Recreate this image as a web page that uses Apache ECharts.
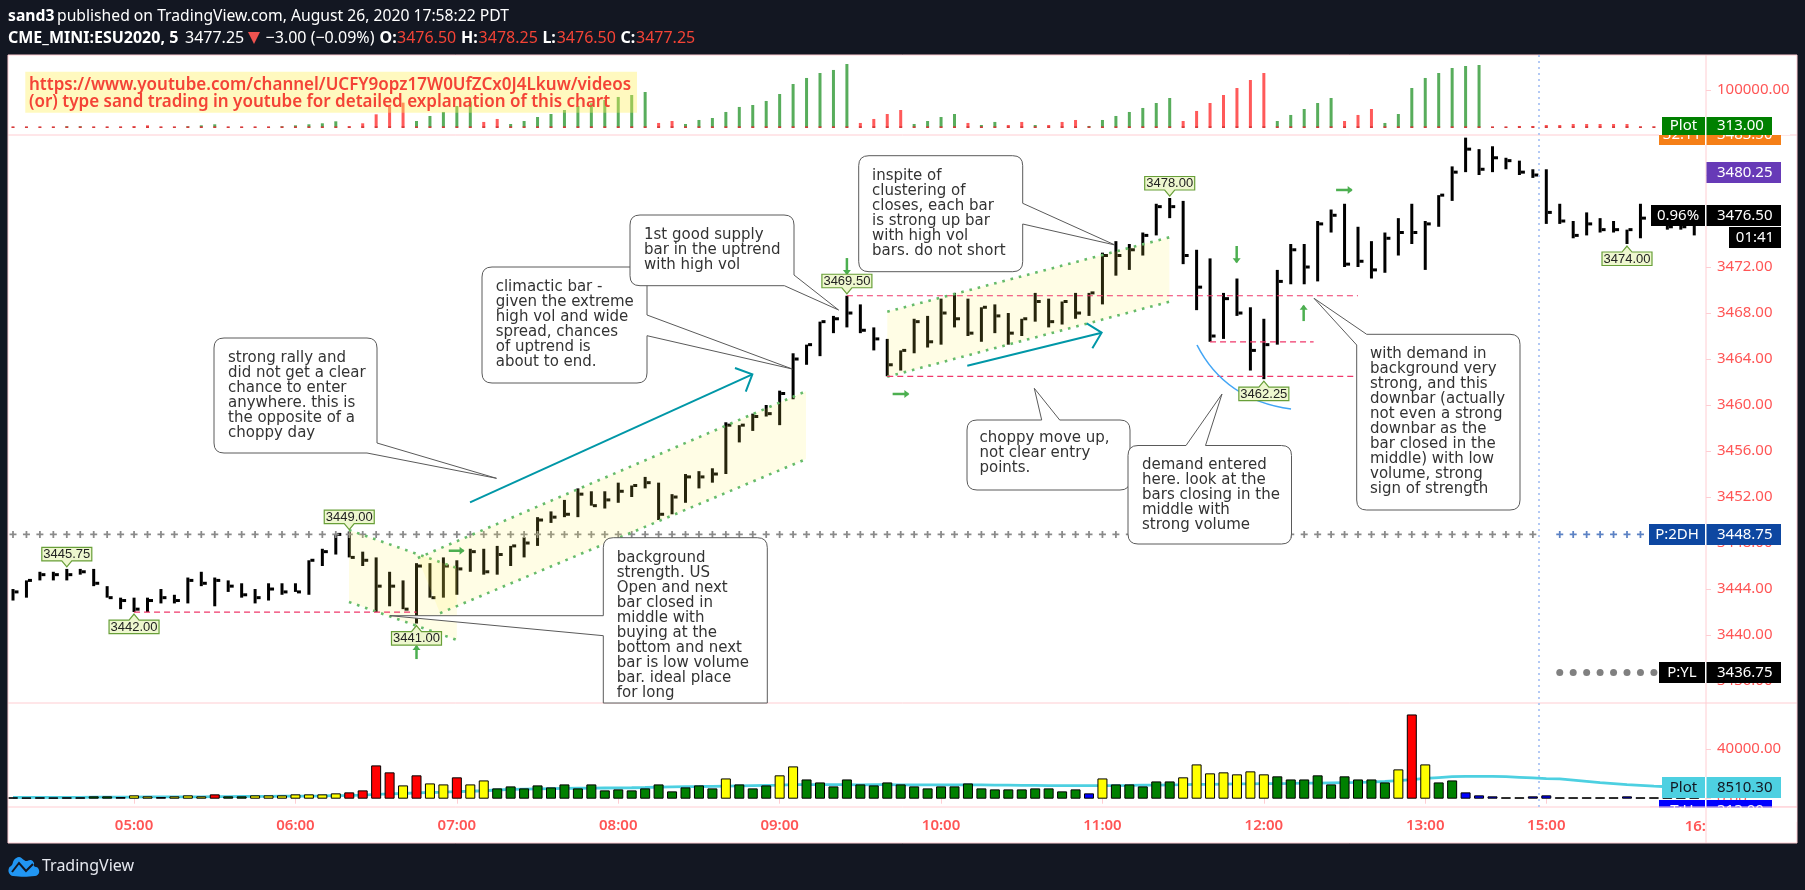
<!DOCTYPE html>
<html><head><meta charset="utf-8">
<style>html,body{margin:0;padding:0;background:#131722}#c{width:1805px;height:890px}</style>
<script src="https://cdn.jsdelivr.net/npm/echarts@6/dist/echarts.min.js"></script>
</head><body><div id="c"></div>
<script>
const times=['04:15','04:20','04:25','04:30','04:35','04:40','04:45','04:50','04:55','05:00','05:05','05:10','05:15','05:20','05:25','05:30','05:35','05:40','05:45','05:50','05:55','06:00','06:05','06:10','06:15','06:20','06:25','06:30','06:35','06:40','06:45','06:50','06:55','07:00','07:05','07:10','07:15','07:20','07:25','07:30','07:35','07:40','07:45','07:50','07:55','08:00','08:05','08:10','08:15','08:20','08:25','08:30','08:35','08:40','08:45','08:50','08:55','09:00','09:05','09:10','09:15','09:20','09:25','09:30','09:35','09:40','09:45','09:50','09:55','10:00','10:05','10:10','10:15','10:20','10:25','10:30','10:35','10:40','10:45','10:50','10:55','11:00','11:05','11:10','11:15','11:20','11:25','11:30','11:35','11:40','11:45','11:50','11:55','12:00','12:05','12:10','12:15','12:20','12:25','12:30','12:35','12:40','12:45','12:50','12:55','13:00','13:05','13:10','13:30','13:35','13:40','13:45','13:50','13:55','15:00','15:05','15:10','15:15','15:20','15:25','15:30','15:35','15:40','15:45','15:50','15:55'];
const timeTicks=['05:00','06:00','07:00','08:00','09:00','10:00','11:00','12:00','13:00','15:00'];
const priceTicks=[3436,3440,3444,3448,3452,3456,3460,3464,3468,3472,3476,3480];
const highs=[3444,3444.75,3445.5,3445.5,3445.75,3445.75,3445.75,3444.25,3443.25,3443.25,3443.25,3444,3443.5,3445,3445.5,3445,3444.75,3444.5,3444,3444.5,3444.5,3444.5,3446.5,3447.5,3448.75,3449,3447.25,3446.75,3445.5,3444.75,3446.25,3446.25,3446.75,3446.5,3447.5,3447.5,3447.75,3447.75,3448.5,3450.25,3450.75,3451.75,3452.75,3452.5,3452.5,3453.25,3453,3453.75,3453.25,3452.25,3454,3454.25,3454.5,3458.5,3458.25,3459.25,3460,3461.25,3464.5,3465.25,3467.25,3467.75,3469.5,3468.75,3466.75,3465.75,3464.75,3467.5,3467.75,3469.25,3469.75,3469.25,3468.5,3468.75,3468,3467.5,3469.75,3469.25,3469,3469.75,3469.75,3473.25,3474.25,3474,3475,3477.5,3478,3477.75,3473.5,3472.75,3469.75,3471,3468.5,3467.5,3471.75,3474,3474,3476,3477,3477.5,3475.5,3474.25,3475,3476.25,3477.5,3476,3478.25,3480.75,3483.25,3482.25,3482.5,3481.5,3481.25,3480.5,3480.5,3477.5,3476,3476.75,3476.25,3476,3475.25,3477.5,3477,3476.5,3476.5,3476.75];
const lows=[3443,3443.25,3444.75,3444.75,3444.75,3445.25,3444.25,3443.25,3442.25,3442,3442,3442.75,3442.75,3442.75,3444.25,3442.5,3443.75,3443.25,3442.75,3443,3443.5,3443.75,3443.5,3446,3447,3446.75,3446,3442,3442.5,3442.25,3441,3443.25,3443.25,3443.5,3445.5,3445.25,3445.25,3446,3446.75,3447.75,3449.75,3450.25,3450.25,3451.25,3451,3451.5,3452,3452.75,3450,3450.5,3451.5,3452.75,3453.25,3454,3456.75,3457.75,3459,3458.25,3460.5,3463.5,3464.25,3466.25,3466.75,3466.25,3464.75,3462.5,3463,3464.5,3465,3465.25,3466.75,3466,3465.5,3466.25,3465.25,3466,3467.25,3466.75,3467,3467.5,3467.75,3468.75,3471.25,3471.75,3473,3474.75,3476.25,3472.25,3468.25,3465.5,3465.75,3467.75,3463,3462.25,3465.25,3470.5,3470.5,3470.75,3475,3472,3472,3471,3471.5,3473,3474,3471.75,3475.5,3477.75,3480.25,3480,3480.25,3480.5,3480,3479.75,3475.75,3475.75,3474.5,3474.75,3475,3475,3474,3474.5,3475.75,3475.25,3475.25,3474.75];
const closes=[3443.75,3444.75,3445.25,3445.25,3445.25,3445.5,3444.5,3443.25,3443,3442.25,3443,3443.25,3443,3444.75,3444.5,3444.75,3444.25,3443.5,3443.25,3444,3443.75,3443.75,3446.5,3447.25,3448.75,3446.75,3446.5,3444.25,3444.25,3442.25,3446,3443.25,3446,3445.75,3447.25,3445.5,3447,3447.75,3448,3450,3450.25,3450.5,3452.25,3451.25,3451.75,3452.5,3453,3453.25,3450.5,3452,3453.75,3453.75,3454,3458.25,3458.25,3459,3459.25,3461,3464,3465.25,3467.25,3467.5,3468,3466.5,3465.75,3463.5,3464.75,3467.25,3465.5,3468,3467.5,3466.25,3468.5,3467.75,3466.25,3467.5,3469,3467.25,3469,3468,3469.75,3473,3473,3473.5,3474.75,3477.25,3477.25,3473,3470.25,3466,3469.25,3468,3464.75,3465.25,3470.75,3473.5,3472,3475.75,3476.5,3472.25,3472.5,3471.75,3474.5,3475,3475,3475.75,3478.25,3480.25,3482.25,3480.5,3481.5,3481.25,3480.25,3480,3476.75,3476,3474.75,3475.75,3475.25,3475.25,3475.25,3476.25,3476.5,3475.5,3475.5,3476.5];
const volumes=[1100,1000,1100,1000,1100,1100,1900,1900,1300,2700,1900,1300,1900,2700,1900,3500,1900,1900,2700,2700,2700,3500,3500,3500,4300,5100,6700,26800,21200,10700,18800,12300,11500,17200,11500,14700,8300,9900,8300,10700,9100,11500,8300,11500,6700,7500,6700,8300,11500,5900,9100,10700,8300,16300,11500,8300,10700,18800,26000,15500,13100,9900,15500,11500,10700,13100,11500,9900,8300,9900,9900,12300,8300,7500,7500,7500,8300,8300,5900,7500,4300,16300,11500,11500,9900,13900,13900,17200,27600,20400,21200,19600,22000,19600,18000,15500,15500,18800,11500,18000,15500,15500,13100,23600,67800,27600,13100,14700,5100,2700,1900,1100,1100,1900,2700,1100,1100,1100,1100,1100,1900,1100,1100,1100,1100,1100];
const volumeClasses=('kkkkkkggkyykyyyrggyyyyyyyrrrryryyryy'+'ggggggggggggggggg'+'yggg'+'yy'+'ggggggggggggggggggggg'+'by'+'ggggg'+'yyyyyyy'+'ggggggggg'+'yry'+'gg'+'bbb'+'kk'+'bb'+'kkkkk'+'b'+'kkkkk').split('');
const volumeAverage=[1000,1000,1000,1000,1100,1100,1200,1200,1200,1300,1400,1400,1400,1500,1500,1700,1700,1800,1800,1900,2000,2100,2100,2200,2400,2600,2900,3500,3900,4200,4700,5000,5300,5700,6000,6400,7000,7500,7700,7900,8100,8300,8400,8500,8600,8700,8800,9000,9300,9500,9700,9800,10000,10200,10400,10600,10800,11000,11300,11300,11300,11300,11300,11200,11300,11300,11200,11200,11200,11200,11200,11200,11100,11000,10900,10800,10700,10600,10600,10500,10500,10500,10600,10700,10900,11000,11200,11300,11500,11600,11800,11900,12000,12100,12200,12300,12500,12600,12800,13000,13100,13400,13900,14500,15400,16300,17000,17700,17900,17900,17900,17700,17200,16700,16200,15900,15000,14000,13000,12200,11300,10700,10100,9600,9000,8510];
const waveValues=[900,900,900,900,2700,2700,900,900,900,2700,5300,900,900,2700,5300,8000,900,900,900,900,2700,5300,8000,10700,16000,2700,10700,34700,55200,65900,16900,30300,41000,57000,68600,14300,22300,8900,16900,27600,35600,46300,57000,64200,73100,81100,86400,94400,11600,16900,8900,19600,24900,41000,54400,59700,70400,89100,115800,131900,145200,153300,169300,11600,22300,35600,46300,8900,16900,27600,35600,11600,6200,14300,6200,14300,6200,6200,14300,19600,3600,19600,30300,41000,51700,65000,78400,16900,43700,65000,86400,105100,126500,145200,16900,33000,49000,65000,78400,16900,33000,49000,11600,35600,105100,131900,145200,158600,163900,166600,900,900,3600,3600,6200,6200,8900,8900,8900,8900,8900,1800,1800,900,900,313];
const waveDirections=('dddd'+'uu'+'ddddddd'+'uuu'+'dddd'+'uuuuu'+'ddddd'+'uuuuu'+'dd'+'uuuuuuuuuuu'+'dd'+'uuuuuuuuuuuuu'+'dddd'+'uuuu'+'d'+'uu'+'dd'+'u'+'ddd'+'uuuuuuu'+'ddddddd'+'uuuuu'+'ddd'+'uuuuuuuu'+'dddddddddddddddd').split('');
const tagBars=[4,9,25,30,62,86,93,120];
const tagPrices=[3445.75,3442,3449,3441,3469.5,3478,3462.25,3474];
const tagSides=['up','down','up','down','up','up','down','down'];
const levelLines=[[9,30,3442],[62,100,3469.5],[65,99.7,3462.5],[89,96.7,3465.5]];
const channels=[[[24.98,3449.13],[33,3445.83],[33,3439.57],[24.98,3442.87]],[[30.1,3446.7],[58.96,3461.2],[58.96,3455.3],[31.75,3441.9]],[[65,3468.11],[85.97,3474.58],[85.97,3468.98],[65,3462.46]]];
const tealArrows=[[[33.98,3451.54],[54.97,3462.67],[53.68,3463.22],[54.48,3461.16]],[[70.95,3463.42],[80.94,3466.29],[79.83,3467.1],[80.25,3464.93]]];
const greenArrows=[[32.4,3447.33,33.5,3447.33],[30,3437.91,30,3439.04],[62,3472.78,62,3471.39],[65.4,3460.96,66.57,3460.96],[90.98,3473.83,90.98,3472.41],[95.96,3467.3,95.96,3468.63],[98.37,3478.7,99.53,3478.7]];
const demandArc=[[88.03,3465.22],[90.11,3460.43],[95.02,3459.65]];
const prevHighGrey=[];for(let i=0;i<=113;i++)prevHighGrey.push(i);
const prevHighBlue=[115,116,117,118,119,120,121,122,123,124,125];
const sessionBars=[115,116,117,118,119,120,121,122,123,124,125];

const notes=[
 {lines:['strong rally and','did not get a clear','chance to enter','anywhere. this is','the opposite of a','choppy day'],x:228,y:358,d:'M224 338 H367 Q377 338 377 348 V443 L496.5 478.3 L367 453 H224 Q214 453 214 443 V348 Q214 338 224 338 Z'},
 {lines:['climactic bar -','given the extreme','high vol and wide','spread, chances','of uptrend is','about to end.'],x:495.7,y:286.7,d:'M492 267 H637 Q647 267 647 277 V315 L792.3 369 L647 335.7 V373 Q647 383 637 383 H492 Q482 383 482 373 V277 Q482 267 492 267 Z'},
 {lines:['1st good supply','bar in the uptrend','with high vol'],x:644,y:235,d:'M640 215 H784 Q794 215 794 225 V275 L838.6 310 L784.4 285.7 H640 Q630 285.7 630 275.7 V225 Q630 215 640 215 Z'},
 {lines:['inspite of','clustering of','closes, each bar','is strong up bar','with high vol','bars. do not short'],x:872,y:175.7,d:'M869 155.7 H1012.7 Q1022.7 155.7 1022.7 165.7 V203.3 L1115 245 L1022.7 224 V261.7 Q1022.7 271.7 1012.7 271.7 H869 Q858.7 271.7 858.7 261.7 V165.7 Q858.7 155.7 869 155.7 Z'},
 {lines:['choppy move up,','not clear entry','points.'],x:979.5,y:438.6,d:'M977 420 H1041.7 L1034.3 388.3 L1059.7 420 H1120 Q1130 420 1130 430 V480 Q1130 490 1120 490 H977 Q967 490 967 480 V430 Q967 420 977 420 Z'},
 {lines:['demand entered','here. look at the','bars closing in the','middle with','strong volume'],x:1142,y:465,d:'M1138 445.5 H1186 L1222 394 L1205.5 445.5 H1281.5 Q1291.5 445.5 1291.5 455.5 V534 Q1291.5 544 1281.5 544 H1138 Q1128 544 1128 534 V455.5 Q1128 445.5 1138 445.5 Z'},
 {lines:['with demand in','background very','strong, and this','downbar (actually','not even a strong','downbar as the','bar closed in the','middle) with low','volume, strong','sign of strength'],x:1370,y:354,d:'M1366.7 334.3 H1510 Q1520 334.3 1520 344.3 V500 Q1520 510 1510 510 H1366.7 Q1356.7 510 1356.7 500 V345 L1314 298.3 Z'},
 {lines:['background','strength. US','Open and next','bar closed in','middle with','buying at the','bottom and next','bar is low volume','bar. ideal place','for long'],x:616.7,y:557.7,d:'M613.3 537.7 H757.3 Q767.3 537.7 767.3 547.7 V703 H603.3 V635.7 L390 615.7 L603.3 615.7 V547.7 Q603.3 537.7 613.3 537.7 Z'}
];

const UI='"Noto Sans"',PINK='#ffcdd2',RED='#f55',FS=15;
const volumeFill={k:'#000',b:'#0000ff',g:'#008000',y:'#ffff00',r:'#ff0000'};
const plus='path://M3 0H5V3H8V5H5V8H3V5H0V3H3Z';

function pt(api,i,p){const i0=Math.floor(i);const c=api.coord([i0,p]);const w=api.size([1,0])[0];return [c[0]+(i-i0)*w,c[1]];}
function T(x,y,text,o){o=o||{};return {type:'text',z:o.z||30,style:{x:x,y:y,text:text,fill:o.fill||'#fff',font:(o.weight||'normal')+' '+(o.size||FS)+'px '+(o.family||UI),align:o.align||'left',textAlign:o.align||'left',verticalAlign:'middle',textVerticalAlign:'middle'}};}
function R(x1,y1,x2,y2,fill,z){return {type:'rect',z:z==null?30:z,silent:true,shape:{x:x1,y:y1,width:x2-x1,height:y2-y1},style:{fill:fill}};}
function L(x1,y1,x2,y2,stroke,z,w){return {type:'line',z:z==null?5:z,silent:true,shape:{x1:x1,y1:y1,x2:x2,y2:y2},style:{stroke:stroke,lineWidth:w||1}};}
function priceLabel(x1,x2,y1,y2,fill,ink,left,right,z,cyOverride){
  const cy=cyOverride==null?(y1+y2)/2:cyOverride;const out=[R(x1,y1,x2,y2,fill,z)];
  if(left){out.push(T((x1+1705)/2,cy,left,{fill:ink,align:'center',z:z+1}));out.push(R(1705,y1,1706.5,y2,'#fff',z+1));}
  out.push(T(1717,cy,right,{fill:ink,z:z+1}));
  return out;
}

const g=[];
g.push(R(8,55,1797,843,'#fff',0));
g.push(L(8,55,1797,55,PINK),L(8,135,1797,135,PINK),L(8,703,1797,703,PINK),L(8,807,1797,807,PINK),L(8,843,1797,843,PINK),L(8,55,8,843,PINK),L(1797,55,1797,843,PINK),L(1706,55,1706,843,PINK));
g.push({type:'line',z:6,silent:true,shape:{x1:1539,y1:55,x2:1539,y2:807},style:{stroke:'#b3c9f5',lineWidth:2,lineDash:[2,4]}});
// advert box
g.push(R(25.3,71.7,637,112.7,'rgba(255,238,88,0.38)',8));
g.push(T(29,85,'https://www.youtube.com/channel/UCFY9opz17W0UfZCx0J4Lkuw/videos',{fill:'#f44336',weight:'600',size:17,z:9}));
g.push(T(29,102,'(or) type sand trading in youtube for detailed explanation of this chart',{fill:'#f44336',weight:'600',size:17,z:9}));
g.push(...priceLabel(1659,1781,135,145,'#f57f17','#fff','32:11','3483.50',30,134.75));
g.push(R(1659,120,1662,135,'#fff',32),R(1772,120,1790,135,'#fff',32));
g.push(...priceLabel(1662,1772,117,135,'#008000','#fff','Plot','313.00',33));
g.push(...priceLabel(1706.5,1781,162,183,'#673ab7','#fff','','3480.25',30));
g.push(...priceLabel(1651,1781,205,226,'#000','#fff','0.96%','3476.50',34));
g.push(R(1729,227,1781,248,'#000',30),T(1755,237.5,'01:41',{align:'center',z:31}));
g.push(...priceLabel(1649,1781,524,545,'#0d47a1','#fff','P:2DH','3448.75',30));
g.push(...priceLabel(1659,1781,662,683,'#000','#fff','P:YL','3436.75',30));
g.push(...priceLabel(1659,1772,800,821,'#0000ff','#fff','T:H','313.00',30));
g.push(...priceLabel(1662,1781,777,798,'#4dd0e1','#131722','Plot','8510.30',33));
g.push(R(1650,807.5,1796.5,822,'#fff',36));
g.push(L(1706,807,1706,822,PINK,37),L(1650,807,1797,807,PINK,37));
g.push(T(1706,827,'16:',{fill:RED,weight:'600',align:'right',z:38}));
// header
const H1=17,H2=38.5,HS=16;
g.push(T(8,H1,'sand3',{weight:'bold',size:15.7}),T(57,H1,'published on TradingView.com, August 26, 2020 17:58:22 PDT',{size:15.7}));
g.push(T(8,H2,'CME_MINI:ESU2020, 5',{weight:'bold',size:HS}),T(185,H2,'3477.25',{size:HS}));
g.push({type:'polygon',z:30,silent:true,shape:{points:[[248,32],[260,32],[254,44]]},style:{fill:'#ef5350'}});
g.push(T(265.6,H2,'−3.00 (−0.09%)',{size:HS}));
[[379.5,'O:',397,'3476.50'],[461,'H:',478.6,'3478.25'],[542.4,'L:',556.7,'3476.50'],[620.5,'C:',636,'3477.25']].forEach(a=>{
  g.push(T(a[0],H2,a[1],{weight:'bold',size:HS}),T(a[2],H2,a[3],{fill:'#f44336',size:HS}));
});
// logo
g.push({type:'polygon',z:30,silent:true,shape:{points:[[13,876],[9,873],[9,868],[12,865],[14,860],[19,857],[24,860],[26,861],[31,860],[34,863],[34,866],[38,868],[39,873],[35,876]],smooth:0.4},style:{fill:'#2196f3'}});
g.push({type:'polyline',z:31,silent:true,shape:{points:[[12,872],[19,863],[26,871],[33,864]]},style:{stroke:'#131722',lineWidth:2,fill:null}});
g.push(T(42,866,'TradingView',{size:16,fill:'#e6e8ef'}));

const bandGrid={left:6.275,width:1694.7};
const xBase=i=>({type:'category',gridIndex:i,data:times,boundaryGap:true,axisLine:{show:false},axisTick:{show:false},axisLabel:{show:false},splitLine:{show:false}});
const yBase=(i,min,max,vals)=>({type:'value',gridIndex:i,position:'right',offset:5.02,min:min,max:max,scale:true,splitLine:{show:false},axisLine:{show:false},
  axisTick:{show:true,length:5,lineStyle:{color:PINK},customValues:vals},
  axisLabel:{show:true,color:RED,fontFamily:UI,fontSize:FS,margin:11,padding:[3,0,0,0],customValues:vals,formatter:v=>Number(v).toFixed(2)}});
const isTick=(i,v)=>timeTicks.includes(v);

const x2=xBase(2);x2.axisTick={show:true,length:5,alignWithLabel:true,interval:isTick,lineStyle:{color:PINK}};
x2.axisLabel={show:true,interval:isTick,color:RED,fontFamily:UI,fontSize:FS,fontWeight:600,margin:11};

const option={
 animation:false,backgroundColor:'#131722',
 grid:[{top:55,height:80,...bandGrid},{top:135,height:568,...bandGrid},{top:703,height:104,...bandGrid}],
 xAxis:[xBase(0),xBase(1),x2],
 yAxis:[yBase(0,-20588,193300,[100000]),yBase(1,3434.09,3483.48,priceTicks),yBase(2,-6680,77022,[0,40000])],
 graphic:{elements:g},
 series:[
  {name:'wave',type:'bar',xAxisIndex:0,yAxisIndex:0,z:2,barWidth:3,data:waveValues.map((v,i)=>({value:v,itemStyle:{color:waveDirections[i]==='u'?'#58ad5c':'#ff5a5a'}}))},
  {name:'wave base',type:'scatter',xAxisIndex:0,yAxisIndex:0,z:3,symbol:'rect',symbolSize:[3,1.5],itemStyle:{color:'#d32f2f',opacity:1},data:times.map((t,i)=>[i,313])},
  {name:'prev high',type:'scatter',xAxisIndex:1,yAxisIndex:1,z:2,symbol:plus,symbolSize:7,itemStyle:{color:'#8a8a8a',opacity:1},data:prevHighGrey.map(i=>[i,3448.75])},
  {name:'prev high now',type:'scatter',xAxisIndex:1,yAxisIndex:1,z:2,symbol:plus,symbolSize:7,itemStyle:{color:'#5c82c4',opacity:1},data:prevHighBlue.map(i=>[i,3448.75])},
  {name:'prev low',type:'scatter',xAxisIndex:1,yAxisIndex:1,z:2,symbol:'circle',symbolSize:7,itemStyle:{color:'#808080',opacity:1},data:sessionBars.map(i=>[i,3436.75])},
  {name:'prev top',type:'scatter',xAxisIndex:1,yAxisIndex:1,z:2,clip:true,symbol:'circle',symbolSize:5,itemStyle:{color:'#8a8a8a',opacity:1},data:sessionBars.map(i=>[i,3483.5])},
  {name:'price',type:'custom',xAxisIndex:1,yAxisIndex:1,z:2,encode:{x:0,y:[1,2,3]},
   data:times.map((t,i)=>[i,highs[i],lows[i],closes[i]]),
   renderItem:(p,api)=>{const i=api.value(0),a=api.coord([i,api.value(1)]),b=api.coord([i,api.value(2)]),c=api.coord([i,api.value(3)]);
    return {type:'group',children:[
     {type:'rect',shape:{x:a[0]-1.5,y:a[1],width:3,height:b[1]-a[1]},style:{fill:'#000'}},
     {type:'rect',shape:{x:a[0]+1.5,y:c[1]-1.5,width:4,height:3},style:{fill:'#000'}}]};}},
  {name:'channels',type:'custom',xAxisIndex:1,yAxisIndex:1,z:3,encode:{x:0,y:1},data:channels.map((c,i)=>[i,3460]),
   renderItem:(p,api)=>{const c=channels[p.dataIndex].map(q=>pt(api,q[0],q[1]));
    const dot={stroke:'#66bb6a',lineWidth:2.6,lineDash:[2.6,5.9],fill:null};
    return {type:'group',children:[
     {type:'polygon',shape:{points:c},style:{fill:'rgba(255,240,80,0.15)'}},
     {type:'polyline',shape:{points:[c[0],c[1]]},style:dot},
     {type:'polyline',shape:{points:[c[3],c[2]]},style:dot}]};}},
  {name:'levels',type:'custom',xAxisIndex:1,yAxisIndex:1,z:4,encode:{x:0,y:1},data:levelLines.map((l,i)=>[i,l[2]]),
   renderItem:(p,api)=>{const l=levelLines[p.dataIndex],a=pt(api,l[0],l[2]),b=pt(api,l[1],l[2]);
    return {type:'line',shape:{x1:a[0],y1:a[1],x2:b[0],y2:b[1]},style:{stroke:'#f0386b',lineWidth:1.2,lineDash:[6,4]}};}},
  {name:'teal arrows',type:'custom',xAxisIndex:1,yAxisIndex:1,z:4,encode:{x:0,y:1},data:tealArrows.map((l,i)=>[i,3460]),
   renderItem:(p,api)=>{const c=tealArrows[p.dataIndex].map(q=>pt(api,q[0],q[1]));const s={stroke:'#0097a7',lineWidth:2,fill:null};
    return {type:'group',children:[{type:'polyline',shape:{points:[c[0],c[1]]},style:s},{type:'polyline',shape:{points:[c[2],c[1],c[3]]},style:s}]};}},
  {name:'green arrows',type:'custom',xAxisIndex:1,yAxisIndex:1,z:4,encode:{x:0,y:1},data:greenArrows.map((l,i)=>[i,3460]),
   renderItem:(p,api)=>{const q=greenArrows[p.dataIndex],a=pt(api,q[0],q[1]),b=pt(api,q[2],q[3]);
    const dx=b[0]-a[0],dy=b[1]-a[1],n=Math.hypot(dx,dy),ux=dx/n,uy=dy/n,h=4;
    return {type:'group',children:[
     {type:'line',shape:{x1:a[0],y1:a[1],x2:b[0],y2:b[1]},style:{stroke:'#4caf50',lineWidth:2.5}},
     {type:'polygon',shape:{points:[[b[0]+ux,b[1]+uy],[b[0]-ux*h-uy*h,b[1]-uy*h+ux*h],[b[0]-ux*h+uy*h,b[1]-uy*h-ux*h]]},style:{fill:'#4caf50'}}]};}},
  {name:'demand arc',type:'custom',xAxisIndex:1,yAxisIndex:1,z:4,encode:{x:0,y:1},data:[[88,3460]],
   renderItem:(p,api)=>{const c=demandArc.map(q=>pt(api,q[0],q[1]));
    return {type:'bezierCurve',shape:{x1:c[0][0],y1:c[0][1],cpx1:c[1][0],cpy1:c[1][1],x2:c[2][0],y2:c[2][1]},style:{stroke:'#42a5f5',lineWidth:1.6,fill:null}};}},
  {name:'tags',type:'custom',xAxisIndex:1,yAxisIndex:1,z:5,encode:{x:0,y:1},data:tagBars.map((b,i)=>[b,tagPrices[i]]),
   renderItem:(p,api)=>{const i=p.dataIndex,c=api.coord([api.value(0),api.value(1)]),up=tagSides[i]==='up',s=up?-1:1;
    const tip=[c[0],c[1]+s*2],e=c[1]+s*8,f=c[1]+s*21.5,t=Math.min(e,f),w=25;
    const pts=[tip,[c[0]+5,e],[c[0]+w,e],[c[0]+w,f],[c[0]-w,f],[c[0]-w,e],[c[0]-5,e]];
    return {type:'group',children:[
     {type:'polygon',shape:{points:pts},style:{fill:'#eef7cf',stroke:'#689f38',lineWidth:1.2}},
     {type:'text',style:{x:c[0],y:t+6.9,text:tagPrices[i].toFixed(2),fill:'#222',font:'13px "Liberation Sans"',align:'center',verticalAlign:'middle'}}]};}},
  {name:'volume average',type:'line',xAxisIndex:2,yAxisIndex:2,z:1,symbol:'none',smooth:false,lineStyle:{color:'#4dd0e1',width:2.8},data:volumeAverage},
  {name:'volume',type:'bar',xAxisIndex:2,yAxisIndex:2,z:2,barWidth:10,data:volumes.map((v,i)=>({value:v,itemStyle:{color:volumeFill[volumeClasses[i]],borderColor:'#000',borderWidth:1}}))},
  {name:'notes',type:'custom',xAxisIndex:1,yAxisIndex:1,z:10,encode:{x:0,y:1},data:notes.map((n,i)=>[i,3460]),
   renderItem:(p)=>{const n=notes[p.dataIndex];
    const kids=[{type:'path',shape:{pathData:n.d},style:{fill:'#fff',stroke:'#5a5a5a',lineWidth:1}}];
    n.lines.forEach((s,j)=>kids.push({type:'text',style:{x:n.x,y:n.y+15*j,text:s,fill:'#333',font:'15px "DejaVu Sans"',align:'left',verticalAlign:'middle'}}));
    return {type:'group',children:kids};}}
 ]
};
echarts.init(document.getElementById('c'),null,{renderer:'canvas'}).setOption(option);
</script></body></html>
